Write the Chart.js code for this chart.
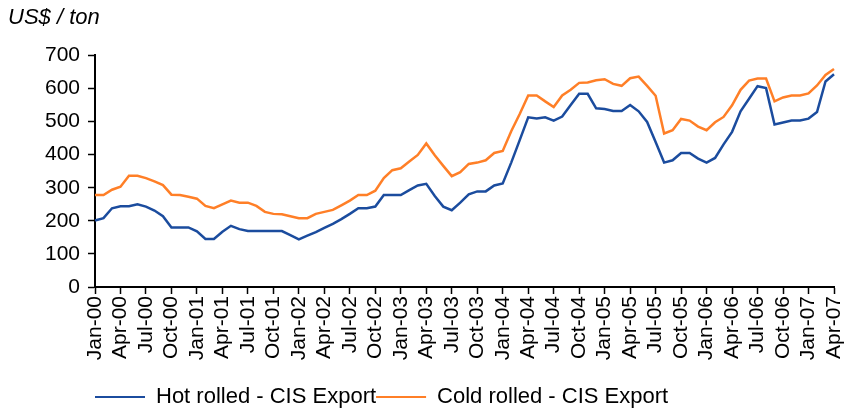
<!DOCTYPE html>
<html>
<head>
<meta charset="utf-8">
<script src="https://cdn.jsdelivr.net/npm/chart.js@4.4.1/dist/chart.umd.min.js"></script>
<style>
  html, body { margin: 0; padding: 0; background: #fff; }
</style>
</head>
<body>
<canvas id="steelChart" width="844" height="410"></canvas>
<script>
// Monthly categories Jan-00 .. Apr-07 (88 months), only every 3rd one is labelled
const monthNames = ['Jan', 'Feb', 'Mar', 'Apr', 'May', 'Jun', 'Jul', 'Aug', 'Sep', 'Oct', 'Nov', 'Dec'];
const yearCodes = ['00', '01', '02', '03', '04', '05', '06', '07'];
const months = [];
yearCodes.forEach(yy => monthNames.forEach(m => months.push(`${m}-${yy}`)));
months.length = 88;

// Values, US$ / ton
const hotRolled = [
    201, 208, 238, 244, 244, 250, 243, 231, 214, 180, 180, 180,
    168, 145, 145, 167, 185, 175, 169, 169, 169, 169, 169, 157,
    144, 155, 166, 179, 191, 205, 221, 238, 238, 243, 278, 278,
    278, 293, 307, 312, 275, 243, 232, 255, 280, 289, 289, 307,
    313, 376, 444, 513, 509, 513, 503, 515, 550, 584, 584, 540,
    538, 532, 532, 550, 531, 499, 438, 376, 383, 405, 405, 388,
    376, 390, 431, 469, 531, 569, 607, 601, 491, 497, 503, 503,
    509, 529, 621, 643
];
const coldRolled = [
    278, 278, 294, 303, 336, 336, 329, 319, 308, 279, 278, 273,
    267, 245, 238, 250, 261, 255, 255, 245, 227, 221, 220, 214,
    208, 208, 221, 227, 233, 247, 261, 278, 278, 291, 329, 353,
    359, 379, 399, 434, 398, 366, 335, 347, 372, 376, 383, 405,
    411, 471, 523, 579, 579, 561, 544, 579, 596, 617, 618, 625,
    628, 614, 608, 631, 636, 608, 578, 464, 474, 508, 503, 485,
    474, 498, 514, 549, 596, 624, 630, 630, 561, 573, 579, 579,
    585, 609, 641, 659
];

const blue = '#1B4C9E';
const orange = '#FF7F27';
const fontFamily = '"Liberation Sans", Arial, sans-serif';

const ctx = document.getElementById('steelChart').getContext('2d');
new Chart(ctx, {
    type: 'line',
    data: {
        labels: months,
        datasets: [
            {
                label: 'Hot rolled - CIS Export',
                data: hotRolled,
                borderColor: blue,
                backgroundColor: blue,
                borderWidth: 2.5,
                pointRadius: 0,
                tension: 0
            },
            {
                label: 'Cold rolled - CIS Export',
                data: coldRolled,
                borderColor: orange,
                backgroundColor: orange,
                borderWidth: 2.5,
                pointRadius: 0,
                tension: 0
            }
        ]
    },
    options: {
        responsive: false,
        animation: false,
        devicePixelRatio: 1,
        layout: { padding: { left: 8, right: 10, top: 0, bottom: -8 } },
        plugins: {
            tooltip: { enabled: false },
            title: {
                display: true,
                text: 'US$ / ton',
                align: 'start',
                color: '#000',
                font: { family: fontFamily, size: 22, style: 'italic', weight: 'normal' },
                padding: { top: 5, bottom: 24 }
            },
            legend: {
                position: 'bottom',
                align: 'start',
                fullSize: false,
                labels: {
                    color: '#000',
                    font: { family: fontFamily, size: 22 },
                    boxWidth: 50,
                    boxHeight: 2,
                    padding: 0,
                    generateLabels: (chart) => {
                        const items = Chart.defaults.plugins.legend.labels.generateLabels(chart);
                        items.forEach(it => { it.lineWidth = 0; it.fillStyle = it.strokeStyle; });
                        return items;
                    }
                }
            }
        },
        scales: {
            x: {
                type: 'category',
                offset: false,
                border: { color: '#000', width: 2 },
                grid: {
                    drawOnChartArea: false,
                    tickLength: 7,
                    tickWidth: 1.5,
                    tickColor: (c) => (c.index % 3 === 0 ? '#000' : 'rgba(0,0,0,0)')
                },
                ticks: {
                    autoSkip: false,
                    maxRotation: 90,
                    minRotation: 90,
                    padding: 2,
                    color: '#000',
                    font: { family: fontFamily, size: 21 },
                    callback: (value, index) => (index % 3 === 0 ? months[index] : '')
                },
                afterFit: (scale) => {
                    scale.height = 99;
                    scale.paddingLeft = 0;
                    scale.paddingRight = 0;
                }
            },
            y: {
                min: 0,
                max: 700,
                border: { color: '#000', width: 2 },
                grid: {
                    drawOnChartArea: false,
                    tickLength: 7,
                    tickWidth: 1.5,
                    tickColor: '#000'
                },
                ticks: {
                    stepSize: 100,
                    padding: 8,
                    color: '#000',
                    font: { family: fontFamily, size: 21 }
                },
                afterFit: (scale) => { scale.width = 87; }
            }
        }
    }
});
</script>
</body>
</html>
